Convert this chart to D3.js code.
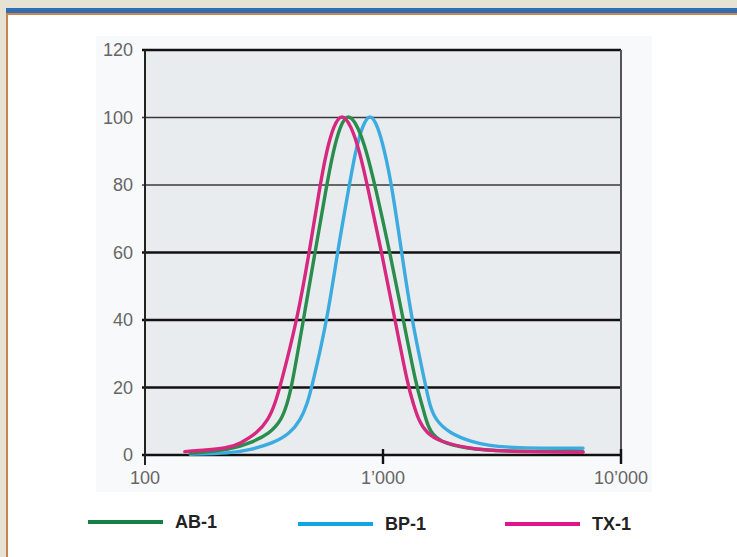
<!DOCTYPE html>
<html>
<head>
<meta charset="utf-8">
<script src="https://cdn.jsdelivr.net/npm/d3@7"></script>
<style>
  body { margin: 0; background: #e7e3d4; }
  svg { display: block; }
</style>
</head>
<body>
<svg id="chart" width="737" height="557"></svg>
<script>
// tick values and labels
const xTicks = [100, 1000, 10000];
const xTickLabels = ["100", "1’000", "10’000"];
const yTicks = [0, 20, 40, 60, 80, 100, 120];

// series: particle size vs. relative value
const seriesNames = ["AB-1", "BP-1", "TX-1"];
const seriesColors = ["#2b8d4d", "#3cabe0", "#d7287f"];
const legendColors = ["#128047", "#10a6e0", "#df168b"];

const abSize = [155, 228, 276, 335, 375, 396, 413, 463, 518, 580, 618, 660, 713, 785, 853, 925, 1070, 1217, 1385, 1454, 1516, 1576, 1736, 2247, 3101, 6924];
const abValue = [0.5, 1.5, 3.5, 6.4, 10.4, 15.3, 20, 40, 60, 80, 90, 97.5, 101.5, 97.5, 90, 80, 60, 40, 20, 15.3, 10.4, 7, 3.8, 1.9, 1.1, 1];

const bpSize = [155, 228, 276, 346, 407, 451, 481, 502, 583, 643, 722, 766, 818, 882, 951, 1016, 1088, 1198, 1320, 1516, 1565, 1654, 1912, 2320, 3101, 6924];
const bpValue = [0.2, 0.5, 1.5, 3.5, 6.4, 10.4, 15.3, 20, 40, 60, 80, 90, 97.5, 101.5, 97.5, 90, 80, 60, 40, 20, 15.3, 10.4, 6.4, 4, 2, 2];

const txSize = [147, 228, 251, 295, 330, 352, 369, 436, 490, 544, 579, 619, 671, 736, 797, 859, 987, 1123, 1277, 1341, 1407, 1527, 1736, 2247, 3101, 6924];
const txValue = [1, 2, 3.5, 6.4, 10.4, 15.3, 20, 40, 60, 80, 90, 97.5, 101.5, 97.5, 90, 80, 60, 40, 20, 15.3, 10.4, 6.4, 4, 2, 1, 0.8];

const sizes = [abSize, bpSize, txSize];
const values = [abValue, bpValue, txValue];

const svg = d3.select("#chart");

// page frame
svg.append("rect").attr("x", 0).attr("y", 0).attr("width", 737).attr("height", 557).attr("fill", "#e7e3d4");
svg.append("rect").attr("x", 6).attr("y", 8).attr("width", 731).attr("height", 5).attr("fill", "#2f6db4");
svg.append("rect").attr("x", 6).attr("y", 13).attr("width", 731).attr("height", 2).attr("fill", "#c9844f");
svg.append("rect").attr("x", 6).attr("y", 13).attr("width", 2).attr("height", 544).attr("fill", "#c9844f");
svg.append("rect").attr("x", 8).attr("y", 15).attr("width", 729).attr("height", 542).attr("fill", "#ffffff");

const x = d3.scaleLog().domain([100, 10000]).range([145, 621]);
const y = d3.scaleLinear().domain([0, 120]).range([455, 50]);

// faint panel behind the plot
svg.append("rect").attr("x", 96).attr("y", 36).attr("width", 556).attr("height", 456).attr("fill", "#f8f9fa");
svg.append("rect")
  .attr("x", x(100)).attr("y", y(120))
  .attr("width", x(10000) - x(100)).attr("height", y(0) - y(120))
  .attr("fill", "#e9ecef");

// horizontal grid lines
svg.append("g")
  .selectAll("line")
  .data(yTicks)
  .join("line")
  .attr("x1", x(100) - 3)
  .attr("x2", x(10000))
  .attr("y1", d => y(d))
  .attr("y2", d => y(d))
  .attr("stroke", d => (d === 80 || d === 100) ? "#3a3a3a" : "#111")
  .attr("stroke-width", d => (d === 80 || d === 100) ? 1.6 : 2.6);

// left axis line and right border
svg.append("line").attr("x1", x(100)).attr("x2", x(100)).attr("y1", y(120)).attr("y2", y(0) + 10)
  .attr("stroke", "#222").attr("stroke-width", 2);
svg.append("line").attr("x1", x(10000)).attr("x2", x(10000)).attr("y1", y(120)).attr("y2", y(0))
  .attr("stroke", "#555").attr("stroke-width", 2);

// x tick marks
svg.append("g")
  .selectAll("line")
  .data(xTicks.slice(1))
  .join("line")
  .attr("x1", d => x(d)).attr("x2", d => x(d))
  .attr("y1", y(0) - 6).attr("y2", y(0) + 9)
  .attr("stroke", "#111").attr("stroke-width", 2.4);

// series curves
const line = d3.line()
  .x(d => x(d[0]))
  .y(d => y(d[1]))
  .curve(d3.curveBasis);

const drawOrder = [1, 0, 2];
svg.append("g")
  .selectAll("path")
  .data(drawOrder)
  .join("path")
  .attr("d", i => line(d3.zip(sizes[i], values[i])))
  .attr("fill", "none")
  .attr("stroke", i => seriesColors[i])
  .attr("stroke-width", 3.4)
  .attr("stroke-linejoin", "round")
  .attr("stroke-linecap", "round");

// tick labels
svg.append("g")
  .selectAll("text")
  .data(yTicks)
  .join("text")
  .attr("x", 133)
  .attr("y", d => y(d))
  .attr("dy", "0.36em")
  .attr("text-anchor", "end")
  .attr("font-family", "Liberation Sans, Arial, sans-serif")
  .attr("font-size", 18)
  .attr("fill", "#666")
  .text(d => d);

svg.append("g")
  .selectAll("text")
  .data(xTicks)
  .join("text")
  .attr("x", d => x(d))
  .attr("y", 484)
  .attr("text-anchor", "middle")
  .attr("font-family", "Liberation Sans, Arial, sans-serif")
  .attr("font-size", 18)
  .attr("fill", "#666")
  .text((d, i) => xTickLabels[i]);

// legend
const legendX = [88, 298, 505];
const legend = svg.append("g")
  .selectAll("g")
  .data(seriesNames)
  .join("g")
  .attr("transform", (d, i) => `translate(${legendX[i]},${i === 0 ? 522 : 524})`);

legend.append("line")
  .attr("x1", 0).attr("x2", 75)
  .attr("stroke", (d, i) => legendColors[i])
  .attr("stroke-width", 4);

legend.append("text")
  .attr("x", 87)
  .attr("dy", "0.36em")
  .attr("font-family", "Liberation Sans, Arial, sans-serif")
  .attr("font-weight", "bold")
  .attr("font-size", 18)
  .attr("fill", "#222")
  .text(d => d);
</script>
</body>
</html>
